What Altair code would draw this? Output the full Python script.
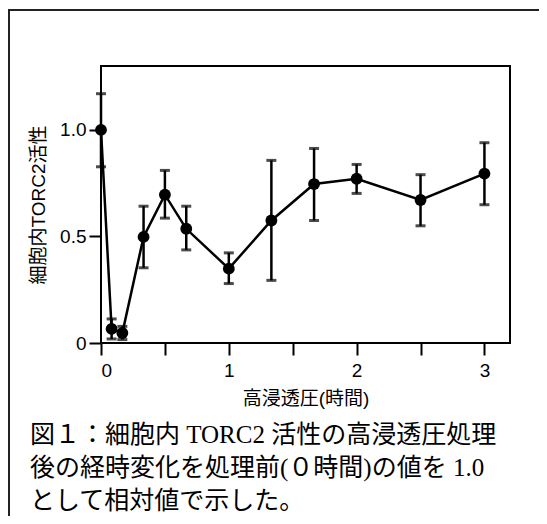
import altair as alt
import pandas as pd

# data
hours = [0, 0.083, 0.167, 0.333, 0.5, 0.667, 1.0, 1.333, 1.667, 2.0, 2.5, 3.0]
activity = [1.0, 0.066, 0.047, 0.498, 0.696, 0.536, 0.349, 0.575, 0.746, 0.771, 0.671, 0.795]
err_high = [1.17, 0.113, 0.078, 0.642, 0.810, 0.642, 0.423, 0.857, 0.913, 0.838, 0.790, 0.940]
err_low = [0.827, 0.019, 0.016, 0.353, 0.586, 0.437, 0.279, 0.294, 0.575, 0.702, 0.550, 0.649]

x_ticks = [0, 0.5, 1, 1.5, 2, 2.5, 3]
y_ticks = [0, 0.5, 1.0]

x_title = "高浸透圧(時間)"
y_title = "細胞内TORC2活性"
caption = [
    "図１：細胞内 TORC2 活性の高浸透圧処理",
    "後の経時変化を処理前(０時間)の値を 1.0",
    "として相対値で示した。",
]

df = pd.DataFrame({"h": hours, "v": activity, "hi": err_high, "lo": err_low})

SANS = "Liberation Sans, Noto Sans CJK JP"
SERIF = "Liberation Serif, Noto Sans CJK JP"

xs = alt.Scale(domain=[0, 3.2], nice=False, zero=False)
ys = alt.Scale(domain=[0, 1.3], nice=False)

X = alt.X(
    "h:Q", scale=xs, title=x_title,
    axis=alt.Axis(values=x_ticks,
                  labelExpr="datum.value % 1 == 0 ? format(datum.value, 'd') : ''",
                  tickSize=12, tickWidth=2, tickColor="black", domain=False,
                  labelFont=SANS, labelFontSize=19, labelColor="black", labelPadding=6,
                  titleFont=SANS, titleFontSize=19, titleFontWeight="normal",
                  titleColor="black", titlePadding=9, grid=False),
)
Y = alt.Y(
    "v:Q", scale=ys, title=y_title,
    axis=alt.Axis(values=y_ticks,
                  labelExpr="datum.value == 0 ? '0' : format(datum.value, '.1f')",
                  tickSize=12, tickWidth=2, tickColor="black", domain=False,
                  labelFont=SANS, labelFontSize=19, labelColor="black", labelPadding=3,
                  titleFont=SANS, titleFontSize=19, titleFontWeight="normal",
                  titleColor="black", titlePadding=11, grid=False),
)

frame = alt.Chart(pd.DataFrame({"a": [0]})).mark_rect(
    fill=None, stroke="#222", strokeWidth=2, clip=False
).encode(
    x=alt.value(-92), x2=alt.value(700), y=alt.value(-56), y2=alt.value(700)
)

base = alt.Chart(df)
bars = base.mark_rule(color="black", strokeWidth=2.5).encode(
    x=X, y=alt.Y("lo:Q", scale=ys), y2="hi:Q"
)
cap_hi = base.mark_tick(color="black", orient="horizontal", size=10, thickness=3).encode(
    x=alt.X("h:Q", scale=xs), y=alt.Y("hi:Q", scale=ys)
)
cap_lo = base.mark_tick(color="black", orient="horizontal", size=10, thickness=3).encode(
    x=alt.X("h:Q", scale=xs), y=alt.Y("lo:Q", scale=ys)
)
line = base.mark_line(color="black", strokeWidth=2.5).encode(x=alt.X("h:Q", scale=xs), y=Y)
pts = base.mark_point(filled=True, color="black", size=140, opacity=1).encode(
    x=alt.X("h:Q", scale=xs), y=alt.Y("v:Q", scale=ys)
)

texts = []
for i, line_text in enumerate(caption):
    texts.append(
        alt.Chart(pd.DataFrame({"t": [line_text]})).mark_text(
            align="left", baseline="middle", font=SERIF, fontSize=25, color="black"
        ).encode(text="t:N", x=alt.value(-71), y=alt.value(369 + 33 * i))
    )

chart = alt.layer(frame, bars, cap_hi, cap_lo, line, pts, *texts).properties(
    width=409, height=277,
    autosize=alt.AutoSizeParams(type="none"),
    padding={"left": 93, "top": 58, "right": 29, "bottom": 173},
    background="white",
).configure_view(stroke="black", strokeWidth=2)

chart.save("out.html", embed_options={"renderer": "svg", "actions": False})
